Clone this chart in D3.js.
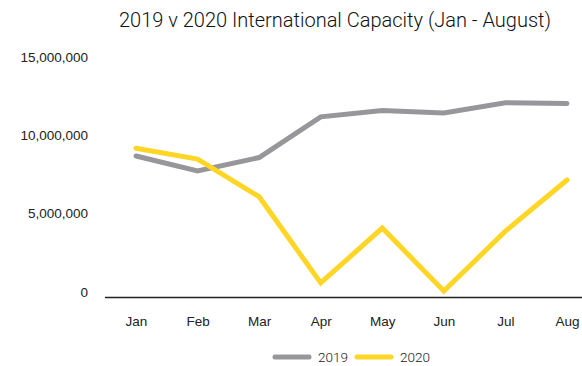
<!DOCTYPE html>
<html>
<head>
<meta charset="utf-8">
<script src="https://cdn.jsdelivr.net/npm/d3@7"></script>
<style>
  html, body { margin: 0; padding: 0; background: #fff; }
  svg { display: block; font-family: Roboto, "Liberation Sans", sans-serif; }
</style>
</head>
<body>
<svg id="chart" width="582" height="366"></svg>
<script>
// International capacity, monthly, Jan - Aug
const months = ["Jan", "Feb", "Mar", "Apr", "May", "Jun", "Jul", "Aug"];
const capacity2019 = [9000000, 8050000, 8900000, 11500000, 11900000, 11750000, 12400000, 12350000];
const capacity2020 = [9500000, 8800000, 6400000, 900000, 4400000, 380000, 4200000, 7470000];
const yTicks = [0, 5000000, 10000000, 15000000];
const seriesNames = ["2019", "2020"];
const seriesColors = ["#97979b", "#ffd526"];

const svg = d3.select("#chart");

const x = d3.scalePoint().domain(months).range([136, 567]);
const y = d3.scaleLinear().domain([0, 15000000]).range([297, 62]);

// Title
svg.append("text")
  .attr("x", 335).attr("y", 27)
  .attr("text-anchor", "middle")
  .attr("font-size", 20)
  .attr("font-weight", 300)
  .attr("fill", "#111")
  .text("2019 v 2020 International Capacity (Jan - August)");

// Y axis labels (no axis line, no gridlines)
const yAxis = d3.axisLeft(y)
  .tickValues(yTicks)
  .tickSize(0)
  .tickPadding(0)
  .tickFormat(d3.format(","));
const yG = svg.append("g").attr("transform", "translate(88,-5)").call(yAxis);
yG.select(".domain").remove();
yG.selectAll("text").attr("font-size", 13.5).attr("font-weight", 300).attr("fill", "#222").attr("font-family", null);

// X axis with a baseline only
const xAxis = d3.axisBottom(x).tickSize(0).tickPadding(0);
const xG = svg.append("g").attr("transform", "translate(0,297)").call(xAxis);
xG.select(".domain").attr("d", "M105,0.5H600").attr("stroke", "#222").attr("stroke-width", 1.5);
xG.selectAll("text").attr("dy", 29).attr("font-size", 13.5).attr("font-weight", 300).attr("fill", "#222").attr("font-family", null);

// Lines
const line = d3.line().x((d, i) => x(months[i])).y(d => y(d));
[capacity2019, capacity2020].forEach((vals, k) => {
  svg.append("path")
    .datum(vals)
    .attr("d", line)
    .attr("fill", "none")
    .attr("stroke", seriesColors[k])
    .attr("stroke-width", 5)
    .attr("stroke-linecap", "round")
    .attr("stroke-linejoin", "miter");
});

// Legend
const legend = svg.append("g").attr("transform", "translate(0,357)");
const legendX = [275, 357];
seriesNames.forEach((name, k) => {
  legend.append("line")
    .attr("x1", legendX[k]).attr("x2", legendX[k] + 34)
    .attr("y1", 0).attr("y2", 0)
    .attr("stroke", seriesColors[k])
    .attr("stroke-width", 5)
    .attr("stroke-linecap", "round");
  legend.append("text")
    .attr("x", legendX[k] + 43).attr("y", 4.5)
    .attr("font-size", 13.5)
    .attr("font-weight", 300)
    .attr("fill", "#222")
    .text(name);
});
</script>
</body>
</html>
